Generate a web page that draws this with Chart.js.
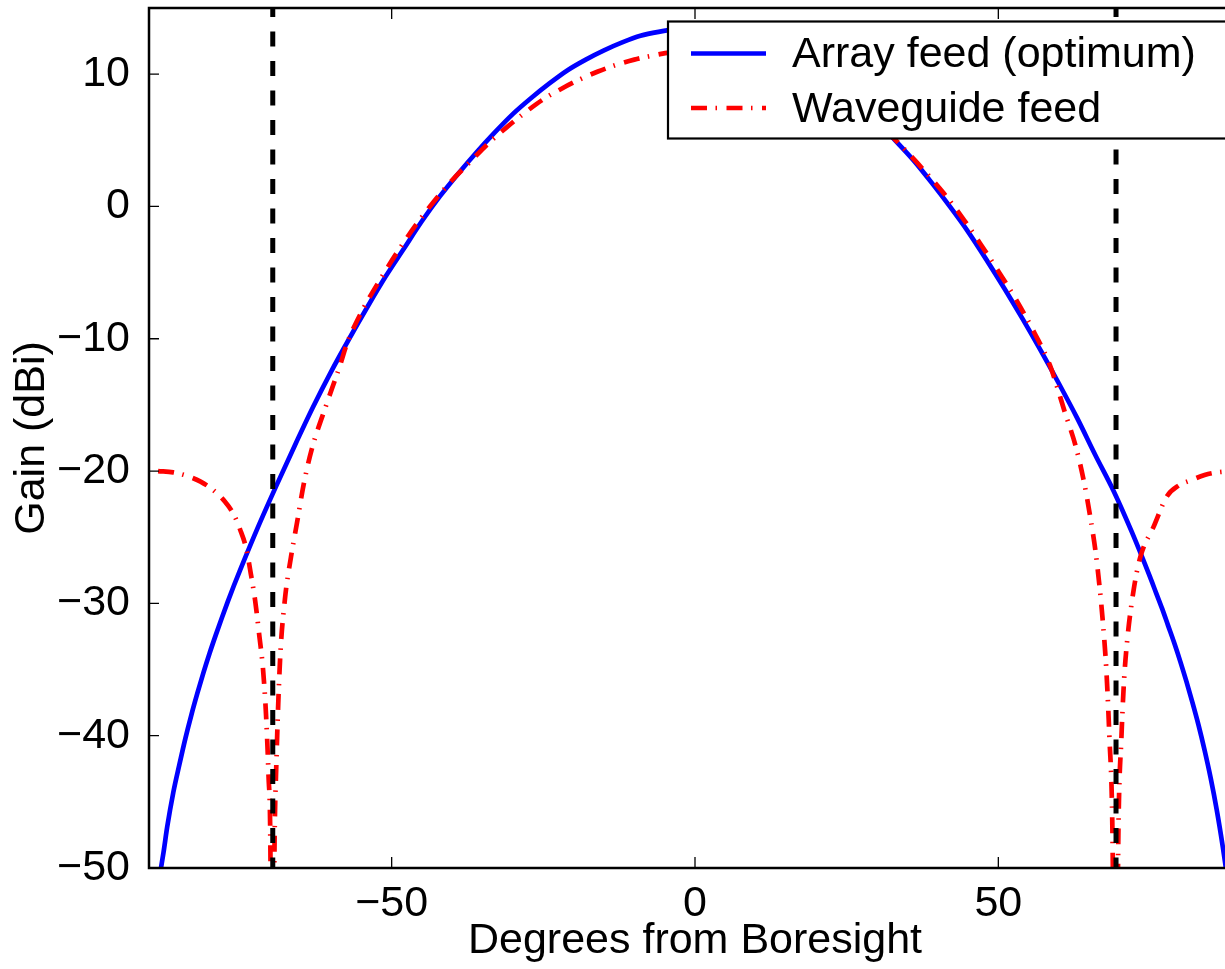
<!DOCTYPE html>
<html lang="en">

<head>
    <meta charset="UTF-8" />
    <title>Gain vs Degrees from Boresight</title>
    <script src="https://cdn.jsdelivr.net/npm/chart.js"></script>
    <style>
        html, body { margin: 0; padding: 0; background: #fff; overflow: hidden; }
        #wrap { width: 1250px; height: 969px; }
    </style>
</head>

<body>
    <div id="wrap"><canvas id="gainChart" width="1250" height="969"></canvas></div>

    <script>
        // values
        const arrayFeedDeg = [-88.2, -87.6, -87, -86, -85, -84, -83, -82, -81, -80, -79, -78, -77, -76, -75, -72, -69, -66, -63, -60, -57, -54, -51,
            -48, -45, -42, -39, -36, -33, -30, -27, -24, -21, -18, -15, -12, -9, -6, -3, 0,
            3, 6, 9, 12, 15, 18, 21, 24, 27, 30, 33, 36, 39, 42, 45, 48, 51, 54, 57, 60, 63, 66, 69, 72,
            75, 76, 77, 78, 79, 80, 81, 82, 83, 84, 85, 86, 87, 87.6];
        const arrayFeedGain = [-50.5, -48.8, -46.9, -44.3, -42.2, -40.2, -38.4, -36.75, -35.2, -33.75, -32.4, -31.1, -29.85, -28.65, -27.5,
            -24.2, -21.1, -18.1, -15.2, -12.5, -10, -7.6, -5.3,
            -3.2, -1.1, 0.8, 2.5, 4.1, 5.6, 7.0, 8.2, 9.3, 10.3, 11.1, 11.8, 12.4, 12.9, 13.2, 13.4, 13.45,
            13.3, 13.1, 12.8, 12.3, 11.7, 11.0, 10.1, 9.0, 7.8, 6.5, 5.0, 3.5, 1.8, 0, -1.9, -4.0, -6.2, -8.5, -10.9, -13.4, -16.0, -18.8, -21.5, -24.6,
            -28.0, -29.2, -30.4, -31.7, -33.0, -34.4, -35.9, -37.5, -39.2, -41.1, -43.2, -45.6, -48.4, -50.3];

        const waveguideDeg = [-88.5, -86, -83.5, -81.5, -79.5, -77.5, -76, -75, -74, -73.2, -72.5, -71.8, -71.2, -70.7, -70.3, -70.0,
            -69.7,
            -69.3, -69.0, -68.4, -67.6, -66.6, -65.6, -64.5, -63.2, -60.7, -58.5, -57.4, -55, -52, -49, -46, -43, -40, -37, -34, -31,
            -28, -25, -22, -19, -16, -13, -10, -7, -4, -1, 2, 5, 8, 11, 14, 17, 20, 23, 26, 29, 32, 35, 38, 41, 44, 47, 50, 53, 56,
            58.5, 61, 62.8, 64.2, 65.2, 66, 66.7, 67.3, 67.8, 68.3, 68.8,
            69.3,
            69.8, 70.3, 70.7, 71.2, 72.3, 73.4, 75.6, 77.8, 79.7, 81.7, 84, 86, 88.5];
        const waveguideGain = [-20, -20.1, -20.4, -20.8, -21.4, -22.3, -23.3, -24.4, -25.8, -27.8, -29.8, -32.5, -35, -38.5, -43, -48,
            -70,
            -48, -42, -34.3, -29.7, -26.5, -23.9, -21, -18.4, -14.9, -12, -10.4, -8.0, -5.6, -3.4, -1.4, 0.4, 2.0, 3.4, 4.8, 6.0,
            7.1, 8.1, 8.9, 9.6, 10.2, 10.7, 11.1, 11.4, 11.65, 11.75, 11.75, 11.6, 11.3, 10.9, 10.4, 9.9, 9.2, 8.5, 7.6, 6.6, 5.5, 4.1, 2.6, 1.0, -0.8, -2.8, -4.9, -7.1, -9.6,
            -12, -15.6, -18.2, -21, -23.6, -26, -28.8, -31.8, -35, -40, -47,
            -70,
            -47, -40, -36, -33, -29, -26.5, -24.2, -21.9, -21.1, -20.7, -20.3, -20.1, -20];

        const limitDeg = [-69.6, 69.4];

        const xTicks = [-50, 0, 50];
        const yTicks = [-50, -40, -30, -20, -10, 0, 10];
        const xRange = [-90, 90];
        const yRange = [-50, 15];

        const legendNames = ['Array feed (optimum)', 'Waveguide feed'];

        const FONT = '"Liberation Sans", Arial, Helvetica, sans-serif';
        Chart.defaults.font.family = FONT;
        Chart.defaults.color = '#000';

        function toPoints(xs, ys) {
            return xs.map((x, i) => ({ x: x, y: ys[i] }));
        }

        function minusSign(v) {
            return String(v).replace('-', '\u2212');
        }

        // box round the plot with inward ticks, matlab style
        const frameAndTicks = {
            id: 'frameAndTicks',
            afterDatasetsDraw(chart) {
                const { ctx, chartArea: a, scales: { x, y } } = chart;
                ctx.save();
                ctx.strokeStyle = '#000';
                ctx.lineWidth = 1.3;
                ctx.beginPath();
                xTicks.forEach(v => {
                    const px = x.getPixelForValue(v);
                    ctx.moveTo(px, a.bottom); ctx.lineTo(px, a.bottom - 11);
                    ctx.moveTo(px, a.top); ctx.lineTo(px, a.top + 11);
                });
                yTicks.forEach(v => {
                    const py = y.getPixelForValue(v);
                    ctx.moveTo(a.left, py); ctx.lineTo(a.left + 10, py);
                    ctx.moveTo(a.right, py); ctx.lineTo(a.right - 10, py);
                });
                ctx.stroke();
                ctx.lineWidth = 2.5;
                ctx.strokeRect(a.left, a.top, a.right - a.left, a.bottom - a.top);
                ctx.restore();
            }
        };

        // legend box inside the plot, top right
        const boxLegend = {
            id: 'boxLegend',
            afterDraw(chart) {
                const ctx = chart.ctx;
                const left = 668, top = 21.5, bottom = 138.5, right = chart.width + 10;
                ctx.save();
                ctx.fillStyle = '#fff';
                ctx.fillRect(left, top, right - left, bottom - top);
                ctx.strokeStyle = '#000';
                ctx.lineWidth = 2.2;
                ctx.strokeRect(left, top, right - left, bottom - top);

                const rows = [53.5, 108];
                legendNames.forEach((name, i) => {
                    const ds = chart.data.datasets[i];
                    ctx.strokeStyle = ds.borderColor;
                    ctx.lineWidth = ds.borderWidth;
                    ctx.setLineDash(ds.borderDash || []);
                    ctx.beginPath();
                    ctx.moveTo(691, rows[i]);
                    ctx.lineTo(766, rows[i]);
                    ctx.stroke();
                    ctx.setLineDash([]);
                    ctx.fillStyle = '#000';
                    ctx.font = '43px ' + FONT;
                    ctx.textAlign = 'left';
                    ctx.textBaseline = 'middle';
                    ctx.fillText(name, 792, rows[i] + 2);
                });
                ctx.restore();
            }
        };

        function noEdgePadding(s) {
            s.paddingTop = 0;
            s.paddingBottom = 0;
            s.paddingLeft = 0;
            s.paddingRight = 0;
        }

        const ctx = document.getElementById('gainChart').getContext('2d');

        const chart = new Chart(ctx, {
            type: 'line',
            data: {
                datasets: [{
                    label: legendNames[0],
                    data: toPoints(arrayFeedDeg, arrayFeedGain),
                    borderColor: '#0000ff',
                    borderWidth: 4.7,
                    pointRadius: 0,
                    cubicInterpolationMode: 'monotone',
                    clip: 0,
                    order: 3
                }, {
                    label: legendNames[1],
                    data: toPoints(waveguideDeg, waveguideGain),
                    borderColor: '#ff0000',
                    borderWidth: 4.7,
                    borderDash: [16, 8.5, 1.5, 9.5],
                    pointRadius: 0,
                    cubicInterpolationMode: 'monotone',
                    clip: 0,
                    order: 2
                }, {
                    label: 'limit left',
                    data: [{ x: limitDeg[0], y: yRange[1] }, { x: limitDeg[0], y: yRange[0] }],
                    borderColor: '#000',
                    borderWidth: 5,
                    borderDash: [15, 14.5],
                    borderDashOffset: 6,
                    pointRadius: 0,
                    clip: 0,
                    order: 1
                }, {
                    label: 'limit right',
                    data: [{ x: limitDeg[1], y: yRange[1] }, { x: limitDeg[1], y: yRange[0] }],
                    borderColor: '#000',
                    borderWidth: 5,
                    borderDash: [15, 14.5],
                    borderDashOffset: 6,
                    pointRadius: 0,
                    clip: 0,
                    order: 1
                }]
            },
            options: {
                responsive: false,
                animation: false,
                layout: {
                    autoPadding: false,
                    padding: { top: 8, right: 9, left: 0, bottom: 0 }
                },
                plugins: {
                    legend: { display: false },
                    tooltip: { enabled: false }
                },
                scales: {
                    x: {
                        type: 'linear',
                        min: xRange[0],
                        max: xRange[1],
                        grid: { display: false },
                        border: { display: false },
                        afterBuildTicks: s => { s.ticks = xTicks.map(v => ({ value: v })); },
                        afterFit: s => { s.height = 101; noEdgePadding(s); },
                        ticks: {
                            font: { size: 43 },
                            color: '#000',
                            padding: 2,
                            maxRotation: 0,
                            autoSkip: false,
                            callback: v => minusSign(v)
                        },
                        title: {
                            display: true,
                            text: 'Degrees from Boresight',
                            font: { size: 43 },
                            color: '#000',
                            padding: { top: 0, bottom: 2 }
                        }
                    },
                    y: {
                        min: yRange[0],
                        max: yRange[1],
                        grid: { display: false },
                        border: { display: false },
                        afterBuildTicks: s => { s.ticks = yTicks.map(v => ({ value: v })); },
                        afterFit: s => { s.width = 149; noEdgePadding(s); },
                        ticks: {
                            font: { size: 43 },
                            color: '#000',
                            padding: 11,
                            autoSkip: false,
                            callback: v => minusSign(v)
                        },
                        title: {
                            display: true,
                            text: 'Gain (dBi)',
                            font: { size: 43 },
                            color: '#000',
                            padding: { top: 6, bottom: 0 }
                        }
                    }
                }
            },
            plugins: [frameAndTicks, boxLegend]
        });
    </script>
</body>

</html>
